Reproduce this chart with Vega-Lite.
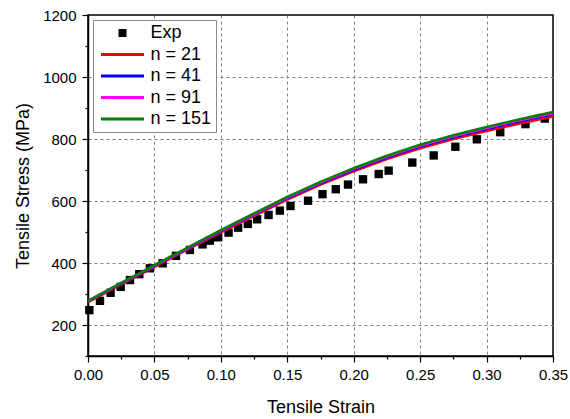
{
  "$schema": "https://vega.github.io/schema/vega-lite/v6.json",
  "width": 465,
  "height": 341,
  "autosize": {"type": "none"},
  "padding": {"left": 88, "top": 15, "right": 17, "bottom": 63},
  "background": "white",
  "config": {
    "view": {"stroke": "black", "strokeWidth": 1.5},
    "axis": {
      "domainColor": "black", "domainWidth": 1.5,
      "tickColor": "black", "tickWidth": 1.2,
      "labelFont": "Liberation Sans", "labelFontSize": 15, "labelColor": "black",
      "titleFont": "Liberation Sans", "titleFontSize": 18, "titleFontWeight": "normal", "titleColor": "black",
      "gridColor": "#808080", "gridDash": [3, 3], "gridWidth": 1,
      "labelOverlap": false, "labelFlush": false
    }
  },
  "data": {"values": [
    {"series": "Exp", "strain": 0.001, "stress": 248},
    {"series": "Exp", "strain": 0.009, "stress": 278},
    {"series": "Exp", "strain": 0.017, "stress": 304},
    {"series": "Exp", "strain": 0.0246, "stress": 323},
    {"series": "Exp", "strain": 0.0316, "stress": 345},
    {"series": "Exp", "strain": 0.0386, "stress": 364},
    {"series": "Exp", "strain": 0.0466, "stress": 383},
    {"series": "Exp", "strain": 0.0562, "stress": 399},
    {"series": "Exp", "strain": 0.0662, "stress": 423},
    {"series": "Exp", "strain": 0.0767, "stress": 442},
    {"series": "Exp", "strain": 0.0862, "stress": 460},
    {"series": "Exp", "strain": 0.0917, "stress": 472},
    {"series": "Exp", "strain": 0.098, "stress": 483},
    {"series": "Exp", "strain": 0.1058, "stress": 498},
    {"series": "Exp", "strain": 0.113, "stress": 514},
    {"series": "Exp", "strain": 0.1203, "stress": 526},
    {"series": "Exp", "strain": 0.1273, "stress": 541},
    {"series": "Exp", "strain": 0.1359, "stress": 555},
    {"series": "Exp", "strain": 0.1444, "stress": 569},
    {"series": "Exp", "strain": 0.1524, "stress": 584},
    {"series": "Exp", "strain": 0.1656, "stress": 601},
    {"series": "Exp", "strain": 0.1765, "stress": 622},
    {"series": "Exp", "strain": 0.1865, "stress": 638},
    {"series": "Exp", "strain": 0.1957, "stress": 653},
    {"series": "Exp", "strain": 0.207, "stress": 670},
    {"series": "Exp", "strain": 0.2188, "stress": 687},
    {"series": "Exp", "strain": 0.2263, "stress": 698},
    {"series": "Exp", "strain": 0.2441, "stress": 724},
    {"series": "Exp", "strain": 0.2602, "stress": 747},
    {"series": "Exp", "strain": 0.2765, "stress": 775},
    {"series": "Exp", "strain": 0.2927, "stress": 799},
    {"series": "Exp", "strain": 0.3103, "stress": 822},
    {"series": "Exp", "strain": 0.3293, "stress": 848},
    {"series": "Exp", "strain": 0.3438, "stress": 866},

    {"series": "n = 21", "strain": 0, "stress": 274},
    {"series": "n = 21", "strain": 0.025, "stress": 331.2},
    {"series": "n = 21", "strain": 0.05, "stress": 387.4},
    {"series": "n = 21", "strain": 0.075, "stress": 443.7},
    {"series": "n = 21", "strain": 0.1, "stress": 498.9},
    {"series": "n = 21", "strain": 0.125, "stress": 552.1},
    {"series": "n = 21", "strain": 0.15, "stress": 604.3},
    {"series": "n = 21", "strain": 0.175, "stress": 652.6},
    {"series": "n = 21", "strain": 0.2, "stress": 695.8},
    {"series": "n = 21", "strain": 0.225, "stress": 735},
    {"series": "n = 21", "strain": 0.25, "stress": 770.2},
    {"series": "n = 21", "strain": 0.275, "stress": 799.5},
    {"series": "n = 21", "strain": 0.3, "stress": 825.7},
    {"series": "n = 21", "strain": 0.325, "stress": 849.9},
    {"series": "n = 21", "strain": 0.35, "stress": 872.1},

    {"series": "n = 41", "strain": 0, "stress": 276},
    {"series": "n = 41", "strain": 0.025, "stress": 333.6},
    {"series": "n = 41", "strain": 0.05, "stress": 390.2},
    {"series": "n = 41", "strain": 0.075, "stress": 446.8},
    {"series": "n = 41", "strain": 0.1, "stress": 502.4},
    {"series": "n = 41", "strain": 0.125, "stress": 556},
    {"series": "n = 41", "strain": 0.15, "stress": 608.6},
    {"series": "n = 41", "strain": 0.175, "stress": 657.2},
    {"series": "n = 41", "strain": 0.2, "stress": 700.8},
    {"series": "n = 41", "strain": 0.225, "stress": 740.4},
    {"series": "n = 41", "strain": 0.25, "stress": 776},
    {"series": "n = 41", "strain": 0.275, "stress": 805.6},
    {"series": "n = 41", "strain": 0.3, "stress": 832.2},
    {"series": "n = 41", "strain": 0.325, "stress": 856.8},
    {"series": "n = 41", "strain": 0.35, "stress": 879.4},

    {"series": "n = 91", "strain": 0, "stress": 277},
    {"series": "n = 91", "strain": 0.025, "stress": 334.8},
    {"series": "n = 91", "strain": 0.05, "stress": 391.6},
    {"series": "n = 91", "strain": 0.075, "stress": 448.4},
    {"series": "n = 91", "strain": 0.1, "stress": 504.2},
    {"series": "n = 91", "strain": 0.125, "stress": 558},
    {"series": "n = 91", "strain": 0.15, "stress": 610.8},
    {"series": "n = 91", "strain": 0.175, "stress": 659.6},
    {"series": "n = 91", "strain": 0.2, "stress": 703.4},
    {"series": "n = 91", "strain": 0.225, "stress": 743.2},
    {"series": "n = 91", "strain": 0.25, "stress": 779},
    {"series": "n = 91", "strain": 0.275, "stress": 808.8},
    {"series": "n = 91", "strain": 0.3, "stress": 835.6},
    {"series": "n = 91", "strain": 0.325, "stress": 860.4},
    {"series": "n = 91", "strain": 0.35, "stress": 883.2},

    {"series": "n = 151", "strain": 0, "stress": 278},
    {"series": "n = 151", "strain": 0.025, "stress": 336},
    {"series": "n = 151", "strain": 0.05, "stress": 393},
    {"series": "n = 151", "strain": 0.075, "stress": 450},
    {"series": "n = 151", "strain": 0.1, "stress": 506},
    {"series": "n = 151", "strain": 0.125, "stress": 560},
    {"series": "n = 151", "strain": 0.15, "stress": 613},
    {"series": "n = 151", "strain": 0.175, "stress": 662},
    {"series": "n = 151", "strain": 0.2, "stress": 706},
    {"series": "n = 151", "strain": 0.225, "stress": 746},
    {"series": "n = 151", "strain": 0.25, "stress": 782},
    {"series": "n = 151", "strain": 0.275, "stress": 812},
    {"series": "n = 151", "strain": 0.3, "stress": 839},
    {"series": "n = 151", "strain": 0.325, "stress": 864},
    {"series": "n = 151", "strain": 0.35, "stress": 887}
  ]},
  "encoding": {
    "x": {
      "field": "strain", "type": "quantitative",
      "scale": {"domain": [0, 0.35], "nice": false, "zero": false},
      "axis": {
        "title": "Tensile Strain",
        "values": [0, 0.025, 0.05, 0.075, 0.1, 0.125, 0.15, 0.175, 0.2, 0.225, 0.25, 0.275, 0.3, 0.325, 0.35],
        "grid": true,
        "gridOpacity": {"condition": {"test": "abs(datum.value*20 - round(datum.value*20)) < 0.001 && datum.value > 0.001 && datum.value < 0.349", "value": 1}, "value": 0},
        "tickSize": {"condition": {"test": "abs(datum.value*20 - round(datum.value*20)) < 0.001", "value": 6}, "value": 3},
        "labelExpr": "abs(datum.value*20 - round(datum.value*20)) < 0.001 ? format(datum.value, '.2f') : ''",
        "labelPadding": 5,
        "titlePadding": 16
      }
    },
    "y": {
      "field": "stress", "type": "quantitative",
      "scale": {"domain": [100, 1200], "nice": false, "zero": false},
      "axis": {
        "title": "Tensile Stress (MPa)",
        "values": [100, 200, 300, 400, 500, 600, 700, 800, 900, 1000, 1100, 1200],
        "grid": true,
        "gridOpacity": {"condition": {"test": "datum.value % 200 == 0 && datum.value < 1150", "value": 1}, "value": 0},
        "tickSize": {"condition": {"test": "datum.value % 200 == 0", "value": 6}, "value": 3},
        "labelExpr": "datum.value % 200 == 0 ? format(datum.value, 'd') : ''",
        "labelPadding": 6,
        "titlePadding": 10
      }
    },
    "color": {
      "field": "series", "type": "nominal",
      "scale": {"domain": ["Exp", "n = 21", "n = 41", "n = 91", "n = 151"], "range": ["black", "#ff0000", "#0000ff", "#ff00ff", "#008000"]},
      "legend": {
        "title": null, "orient": "none", "legendX": 5, "legendY": 5,
        "padding": 4, "strokeColor": "#888888", "fillColor": "white",
        "labelFont": "Liberation Sans", "labelFontSize": 18, "labelColor": "black", "labelLimit": 200,
        "symbolSize": 400, "rowPadding": 3.5, "symbolOffset": 16.5, "labelOffset": 19,
        "encode": {"symbols": {"update": {
          "shape": {"signal": "datum.value === 'Exp' ? 'square' : 'M-2.15,0H2.15'"},
          "size": {"signal": "datum.value === 'Exp' ? 64 : 400"},
          "fill": {"signal": "datum.value === 'Exp' ? 'black' : 'transparent'"},
          "stroke": {"signal": "datum.value === 'Exp' ? 'black' : scale('color', datum.value)"},
          "strokeWidth": {"signal": "datum.value === 'Exp' ? 0 : 3"},
          "opacity": {"value": 1}
        }}}
      }
    }
  },
  "layer": [
    {
      "transform": [{"filter": "datum.series === 'Exp'"}],
      "mark": {"type": "point", "shape": "square", "filled": true, "size": 70, "opacity": 1}
    },
    {
      "transform": [{"filter": "datum.series !== 'Exp'"}],
      "mark": {"type": "line", "strokeWidth": 2.5}
    }
  ]
}
